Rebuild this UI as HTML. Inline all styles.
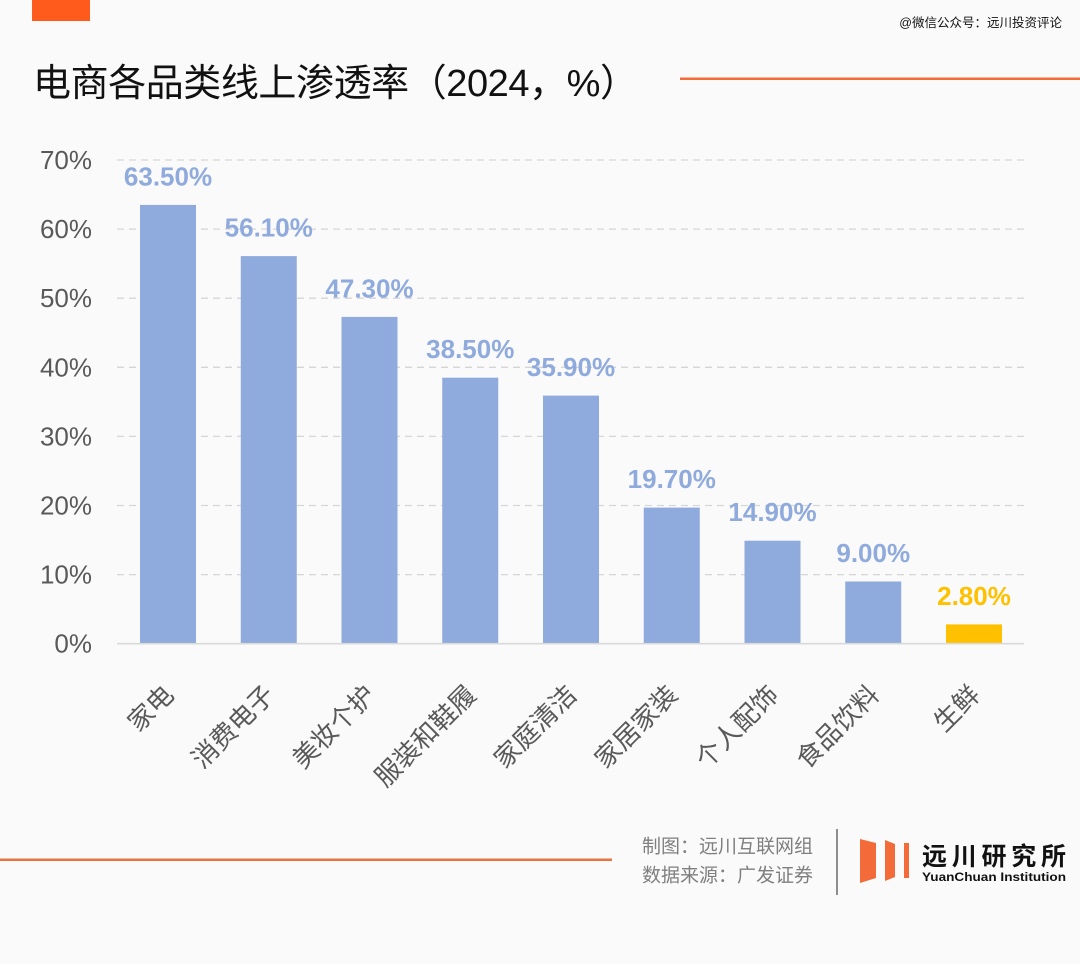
<!DOCTYPE html>
<html>
<head>
<meta charset="utf-8">
<style>
  html, body { margin:0; padding:0; }
  body { width:1080px; height:964px; background:#fafafa; overflow:hidden; }
  svg { display:block; }
</style>
</head>
<body>
<svg width="1080" height="964" viewBox="0 0 1080 964" xmlns="http://www.w3.org/2000/svg">
  <rect x="0" y="0" width="1080" height="964" fill="#fafafa"/>
  <!-- top orange tab -->
  <rect x="32" y="0" width="58" height="21" fill="#fe5b1c"/>
  <!-- watermark -->
  <text x="1062" y="27" text-anchor="end" font-family="'Liberation Sans','Noto Sans CJK SC',sans-serif" font-size="12.5" fill="#111">@微信公众号：远川投资评论</text>
  <!-- title -->
  <text x="33" y="96" font-family="'Liberation Sans','Noto Sans CJK SC',sans-serif" font-size="38" fill="#111" font-weight="normal" textLength="605" lengthAdjust="spacing">电商各品类线上渗透率（2024，%）</text>
  <!-- top orange line -->
  <rect x="680" y="77.5" width="400" height="2.5" fill="#f26b38"/>

  <!-- gridlines -->
  <g stroke="#d6d6d6" stroke-width="1.3" stroke-dasharray="7,5">
    <line x1="117" y1="160" x2="1024" y2="160"/>
    <line x1="117" y1="229.1" x2="1024" y2="229.1"/>
    <line x1="117" y1="298.2" x2="1024" y2="298.2"/>
    <line x1="117" y1="367.3" x2="1024" y2="367.3"/>
    <line x1="117" y1="436.4" x2="1024" y2="436.4"/>
    <line x1="117" y1="505.5" x2="1024" y2="505.5"/>
    <line x1="117" y1="574.6" x2="1024" y2="574.6"/>
  </g>

  <!-- y axis labels -->
  <g font-family="'Liberation Sans','Noto Sans CJK SC',sans-serif" font-size="26" fill="#595959" text-anchor="end" dominant-baseline="central">
    <text x="92" y="160">70%</text>
    <text x="92" y="229.1">60%</text>
    <text x="92" y="298.2">50%</text>
    <text x="92" y="367.3">40%</text>
    <text x="92" y="436.4">30%</text>
    <text x="92" y="505.5">20%</text>
    <text x="92" y="574.6">10%</text>
    <text x="92" y="643.7">0%</text>
  </g>

  <!-- bars -->
  <g fill="#8faadc">
    <rect x="140" y="204.9" width="56" height="438.8"/>
    <rect x="240.75" y="256.1" width="56" height="387.6"/>
    <rect x="341.5" y="316.9" width="56" height="326.8"/>
    <rect x="442.25" y="377.7" width="56" height="266"/>
    <rect x="543" y="395.6" width="56" height="248.1"/>
    <rect x="643.75" y="507.6" width="56" height="136.1"/>
    <rect x="744.5" y="540.7" width="56" height="103"/>
    <rect x="845.25" y="581.5" width="56" height="62.2"/>
  </g>
  <rect x="946" y="624.4" width="56" height="19.3" fill="#ffc000"/>

  <!-- axis line -->
  <line x1="117" y1="643.7" x2="1024" y2="643.7" stroke="#d9d9d9" stroke-width="1.6"/>

  <!-- value labels -->
  <g font-family="'Liberation Sans','Noto Sans CJK SC',sans-serif" font-size="26" font-weight="bold" fill="#8faadc" text-anchor="middle">
    <text x="168" y="185.4">63.50%</text>
    <text x="268.75" y="236.6">56.10%</text>
    <text x="369.5" y="297.4">47.30%</text>
    <text x="470.25" y="358.2">38.50%</text>
    <text x="571" y="376.1">35.90%</text>
    <text x="671.75" y="488.1">19.70%</text>
    <text x="772.5" y="521.2">14.90%</text>
    <text x="873.25" y="562">9.00%</text>
    <text x="974" y="604.9" fill="#ffc000">2.80%</text>
  </g>

  <!-- category labels -->
  <g font-family="'Liberation Sans','Noto Sans CJK SC',sans-serif" font-size="26" fill="#595959" text-anchor="end" dominant-baseline="central">
    <text transform="translate(169,690) rotate(-45)">家电</text>
    <text transform="translate(269.75,690) rotate(-45)">消费电子</text>
    <text transform="translate(370.5,690) rotate(-45)">美妆个护</text>
    <text transform="translate(471.25,690) rotate(-45)">服装和鞋履</text>
    <text transform="translate(572,690) rotate(-45)">家庭清洁</text>
    <text transform="translate(672.75,690) rotate(-45)">家居家装</text>
    <text transform="translate(773.5,690) rotate(-45)">个人配饰</text>
    <text transform="translate(874.25,690) rotate(-45)">食品饮料</text>
    <text transform="translate(975,690) rotate(-45)">生鲜</text>
  </g>

  <!-- bottom orange line -->
  <rect x="0" y="858.5" width="612" height="2.5" fill="#e8743f"/>

  <!-- footer text -->
  <g font-family="'Liberation Sans','Noto Sans CJK SC',sans-serif" font-size="19" fill="#7f7f7f" dominant-baseline="central">
    <text x="642" y="847">制图：远川互联网组</text>
    <text x="642" y="876">数据来源：广发证券</text>
  </g>

  <!-- divider -->
  <line x1="837" y1="829" x2="837" y2="895" stroke="#6b6b6b" stroke-width="1.5"/>

  <!-- logo -->
  <g fill="#f26b38">
    <polygon points="860,839 876,843 876,878 860,883"/>
    <polygon points="885,840 895,844 895,877 885,881"/>
    <polygon points="904,843 909,843 909,878 904,878"/>
  </g>
  <text x="922" y="865" font-family="'Liberation Sans','Noto Sans CJK SC',sans-serif" font-size="25" font-weight="bold" fill="#111" textLength="144" lengthAdjust="spacing">远川研究所</text>
  <text x="922" y="881" font-family="'Liberation Sans',sans-serif" font-size="12" font-weight="bold" fill="#111" textLength="144" lengthAdjust="spacingAndGlyphs">YuanChuan Institution</text>
</svg>
</body>
</html>
